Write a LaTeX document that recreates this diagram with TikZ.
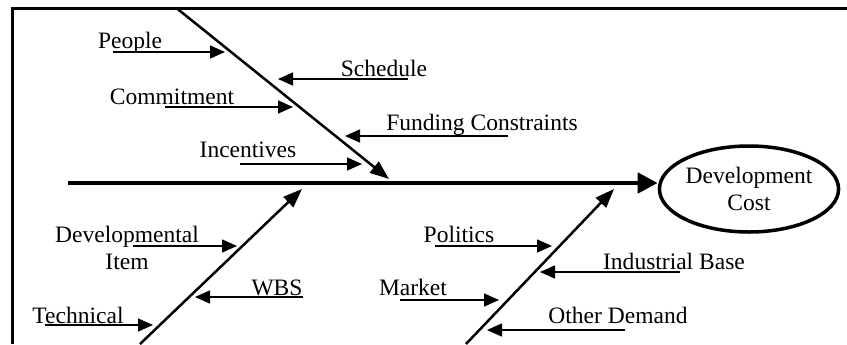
\documentclass[tikz,border=0pt]{standalone}
\usepackage{fontspec}
\setmainfont{Liberation Serif}
\usetikzlibrary{arrows.meta,shapes.geometric}

\begin{document}
\begin{tikzpicture}[x=1bp,y=-1bp,
	lbl/.style={anchor=base, inner sep=0pt, font=\fontsize{23.6}{28}\selectfont},
	branch/.style={line width=1.5bp, -{Triangle[length=15bp,width=13bp]}},
	bone/.style={line width=2.5bp, -{Triangle[length=19bp,width=14bp]}},
	spine/.style={line width=4.5bp, -{Triangle[length=20bp,width=20bp]}}]

	\useasboundingbox (0,0) rectangle (847,344);

	%The frame
	\draw[line width=3bp] (12.5,344) -- (12.5,8.5) -- (847,8.5);

	%The head and the spine
	\node[ellipse, draw, line width=3.5bp, minimum width=169bp, minimum height=86bp,
		inner sep=0pt, align=center, font=\fontsize{23.6}{28}\selectfont] (cost) at (749,189) {Development\\Cost};
	\coordinate (tail) at (68,183);
	\draw[spine] (tail) -- (tail -| cost.west);

	%The bones
	\coordinate (upper-top) at (177,8.5);
	\coordinate (upper-head) at (389,179);
	\coordinate (left-foot) at (140,344);
	\coordinate (left-head) at (302,189);
	\coordinate (right-foot) at (466,344);
	\coordinate (right-head) at (614,189);
	\draw[bone] (upper-top) -- (upper-head);
	\draw[bone] (left-foot) -- (left-head);
	\draw[bone] (right-foot) -- (right-head);

	%Upper bone
	\node[lbl] (people) at (130,48) {People};
	\coordinate (people-s) at (113,52);
	\coordinate (people-e) at (225,52);
	\draw[branch] (people-s) -- (people-e);

	\node[lbl] (schedule) at (384,76) {Schedule};
	\coordinate (schedule-s) at (408,79);
	\coordinate (schedule-e) at (278,79);
	\draw[branch] (schedule-s) -- (schedule-e);

	\node[lbl] (commit) at (172,104) {Commitment};
	\coordinate (commit-s) at (165,107);
	\coordinate (commit-e) at (293,107);
	\draw[branch] (commit-s) -- (commit-e);

	\node[lbl] (funding) at (482,130) {Funding Constraints};
	\coordinate (funding-s) at (508,136);
	\coordinate (funding-e) at (345,136);
	\draw[branch] (funding-s) -- (funding-e);

	\node[lbl] (incent) at (248,157) {Incentives};
	\coordinate (incent-s) at (240,164);
	\coordinate (incent-e) at (362,164);
	\draw[branch] (incent-s) -- (incent-e);

	%Lower left bone
	\node[lbl, anchor=center, align=center] (devitem) at (127,248) {Developmental\\Item};
	\coordinate (devitem-s) at (133,246);
	\coordinate (devitem-e) at (237,246);
	\draw[branch] (devitem-s) -- (devitem-e);

	\node[lbl] (wbs) at (277,295) {WBS};
	\coordinate (wbs-s) at (303,297);
	\coordinate (wbs-e) at (195,297);
	\draw[branch] (wbs-s) -- (wbs-e);

	\node[lbl] (tech) at (78,323) {Technical};
	\coordinate (tech-s) at (45,325);
	\coordinate (tech-e) at (153,325);
	\draw[branch] (tech-s) -- (tech-e);

	%Lower right bone
	\node[lbl] (politics) at (459,242) {Politics};
	\coordinate (politics-s) at (435,246);
	\coordinate (politics-e) at (552,246);
	\draw[branch] (politics-s) -- (politics-e);

	\node[lbl] (indbase) at (674,269) {Industrial Base};
	\coordinate (indbase-s) at (680,272);
	\coordinate (indbase-e) at (540,272);
	\draw[branch] (indbase-s) -- (indbase-e);

	\node[lbl] (market) at (413,295) {Market};
	\coordinate (market-s) at (400,300);
	\coordinate (market-e) at (499,300);
	\draw[branch] (market-s) -- (market-e);

	\node[lbl] (demand) at (618,323) {Other Demand};
	\coordinate (demand-s) at (625,330);
	\coordinate (demand-e) at (487,330);
	\draw[branch] (demand-s) -- (demand-e);

\end{tikzpicture}
\end{document}
